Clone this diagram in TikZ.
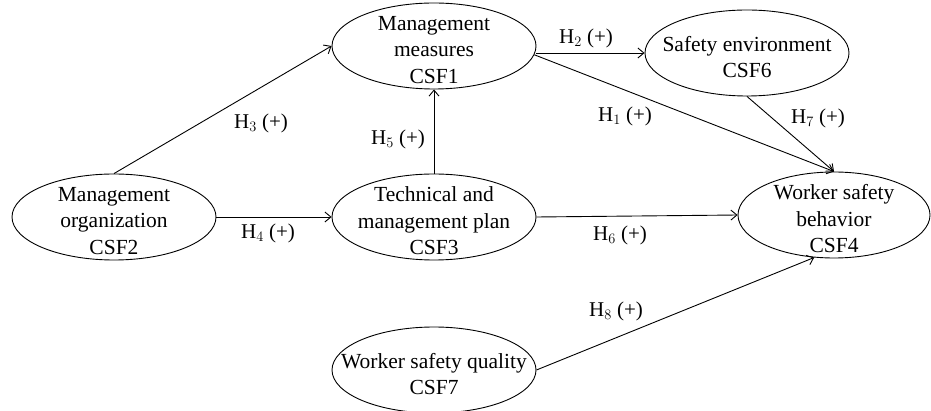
\documentclass[tikz,border=0pt]{standalone}
\usepackage{fontspec}
\setmainfont{Liberation Serif}
\usetikzlibrary{shapes.geometric,arrows.meta}
\begin{document}
\begin{tikzpicture}[x=1pt,y=-1pt,
  csf/.style={draw,ellipse,line width=0.9pt,inner sep=0pt,minimum width=204pt,minimum height=86pt},
  txt/.style={align=center,inner sep=0pt,font=\fontsize{21.5}{26.5}\selectfont},
  arr/.style={line width=0.9pt,-{Straight Barb[length=6pt,width=10pt]}},
  lab/.style={inner sep=0pt,font=\fontsize{21}{24}\selectfont}]
\useasboundingbox (0,0) rectangle (931,411);
\node[csf] (csf2) at (114,217) {};
\node[csf] (csf1) at (434,46) {};
\node[csf] (csf3) at (434,217) {};
\node[csf] (csf6) at (747,53) {};
\node[csf,minimum width=192pt] (csf4) at (834,215) {};
\node[csf] (csf7) at (434,370) {};
\node[txt] (t2) at ([yshift=-4pt]csf2.center) {Management\\organization\\CSF2};
\node[txt] (t1) at ([yshift=-4pt]csf1.center) {Management\\measures\\CSF1};
\node[txt] (t3) at ([yshift=-4pt]csf3.center) {Technical and\\management plan\\CSF3};
\node[txt] (t6) at ([yshift=-4pt]csf6.center) {Safety environment\\CSF6};
\node[txt] (t4) at ([yshift=-4pt]csf4.center) {Worker safety\\behavior\\CSF4};
\node[txt] (t7) at ([yshift=-4pt]csf7.center) {Worker safety quality\\CSF7};
\draw[arr] (csf2.north) -- (csf1.west);
\draw[arr] (csf2.east) -- (csf3.west);
\draw[arr] (csf3.north) -- (csf1.south);
\draw[arr] (csf1.east |- csf6.west) -- (csf6.west);
\draw[arr] (csf1.-5) -- (csf4.north);
\draw[arr] (csf6.south) -- (csf4.north);
\draw[arr] (csf3.east) -- (csf4.west);
\draw[arr] (csf7.east) -- (csf4.-115);
\node[lab] (h3) at (261,123) {H$_3$ (+)};
\node[lab] (h5) at (398,139) {H$_5$ (+)};
\node[lab] (h2) at (586,38) {H$_2$ (+)};
\node[lab] (h1) at (625,116) {H$_1$ (+)};
\node[lab] (h7) at (818,118) {H$_7$ (+)};
\node[lab] (h4) at (268,233) {H$_4$ (+)};
\node[lab] (h6) at (620,235) {H$_6$ (+)};
\node[lab] (h8) at (616,311) {H$_8$ (+)};
\end{tikzpicture}
\end{document}
